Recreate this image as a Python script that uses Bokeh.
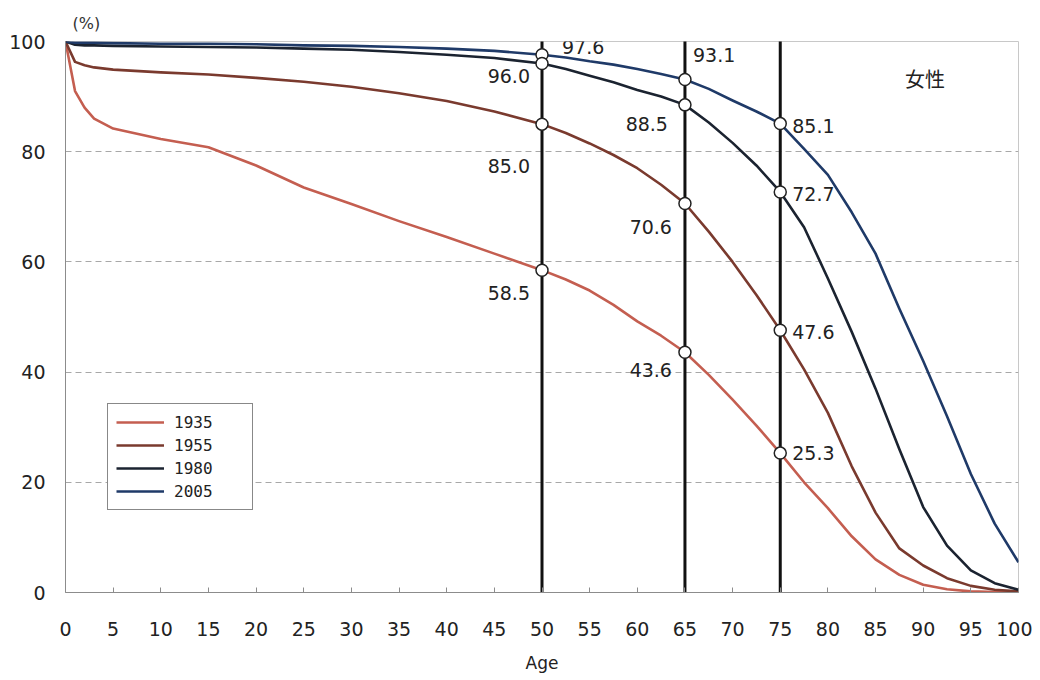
from bokeh.plotting import figure
from bokeh.models import ColumnDataSource, Range1d, FixedTicker, Legend, LegendItem, Label, Title
from bokeh.core.properties import value
from bokeh.embed import file_html
from bokeh.resources import INLINE

# ---------------- data ----------------
ages = [0, 1, 2, 3, 5, 10, 15, 20, 25, 30, 35, 40, 45,
        50, 52.5, 55, 57.5, 60, 62.5, 65, 67.5, 70, 72.5, 75, 77.5,
        80, 82.5, 85, 87.5, 90, 92.5, 95, 97.5, 100]
surv_1935 = [100, 91.0, 88.0, 86.0, 84.2, 82.3, 80.8, 77.5, 73.5, 70.5, 67.4, 64.5, 61.5,
             58.5, 56.8, 54.8, 52.2, 49.2, 46.6, 43.6, 39.5, 35.0, 30.3, 25.3, 20.0,
             15.3, 10.2, 6.0, 3.2, 1.4, 0.6, 0.2, 0.1, 0.0]
surv_1955 = [100, 96.3, 95.7, 95.3, 94.9, 94.4, 94.0, 93.4, 92.7, 91.8, 90.6, 89.2, 87.3,
             85.0, 83.4, 81.5, 79.4, 77.0, 74.0, 70.6, 65.5, 60.0, 54.0, 47.6, 40.5,
             32.6, 22.9, 14.5, 8.0, 4.9, 2.6, 1.2, 0.5, 0.2]
surv_1980 = [100, 99.4, 99.3, 99.3, 99.2, 99.1, 99.0, 98.9, 98.7, 98.5, 98.1, 97.6, 97.0,
             96.0, 95.0, 93.8, 92.6, 91.2, 90.0, 88.5, 85.3, 81.6, 77.5, 72.7, 66.3,
             57.0, 47.3, 37.0, 26.0, 15.5, 8.5, 4.0, 1.7, 0.5]
surv_2005 = [100, 99.8, 99.8, 99.8, 99.7, 99.6, 99.6, 99.5, 99.3, 99.2, 99.0, 98.7, 98.3,
             97.6, 97.1, 96.4, 95.8, 95.0, 94.1, 93.1, 91.4, 89.3, 87.3, 85.1, 80.5,
             75.8, 69.0, 61.5, 51.5, 42.0, 32.0, 21.5, 12.5, 5.5]
series_names = ["1935", "1955", "1980", "2005"]

milestone_ages = [50, 65, 75]
point_ages = [50, 50, 50, 50, 65, 65, 65, 65, 75, 75, 75, 75]
point_values = [97.6, 96.0, 85.0, 58.5, 93.1, 88.5, 70.6, 43.6, 85.1, 72.7, 47.6, 25.3]

y_ticks = [0, 20, 40, 60, 80, 100]
x_ticks = list(range(0, 101, 5))
y_unit = "(%)"
x_title = "Age"
panel_title = "女性"

# ---------------- styles ----------------
colors = ["#c45e50", "#7a3a2e", "#1b2330", "#1f3a68"]
label_dx = [20, -12, -12, -12, 8, -17, -13, -13, 12, 12, 12, 12]
label_dy = [-8, 12, 42, 23, -25, 19, 24, 18, 2, 2, 2, 0]
label_align = ["left", "right", "right", "right", "left", "right", "right", "right", "left", "left", "left", "left"]

FONT = "DejaVu Sans"

p = figure(width=1032, height=676,
           x_range=Range1d(0, 100), y_range=Range1d(0, 100),
           output_backend="svg", toolbar_location=None,
           min_border_left=65, min_border_right=14,
           min_border_top=41, min_border_bottom=84,
           background_fill_color="white", border_fill_color="white")

p.outline_line_color = "#c8c8c8"
p.outline_line_width = 1
p.xgrid.grid_line_color = None
p.ygrid.grid_line_color = "#a8a8a8"
p.ygrid.grid_line_dash = "6 4"
p.ygrid.grid_line_width = 1
p.ygrid.ticker = FixedTicker(ticks=[20, 40, 60, 80])

p.xaxis.ticker = FixedTicker(ticks=x_ticks)
p.yaxis.ticker = FixedTicker(ticks=y_ticks)
for ax in (p.xaxis, p.yaxis):
    ax.axis_line_color = "#8c8c8c"
    ax.axis_line_width = 1
    ax.major_tick_line_color = "#8c8c8c"
    ax.minor_tick_line_color = None
    ax.major_label_text_font = FONT
    ax.major_label_text_font_size = "19px"
    ax.major_label_text_color = "#222222"
p.xaxis.major_tick_in = 5
p.xaxis.major_tick_out = 0
p.xaxis.major_label_standoff = 29
p.yaxis.major_tick_in = 0
p.yaxis.major_tick_out = 0
p.yaxis.major_label_standoff = 20
p.xaxis.axis_label = x_title
p.xaxis.axis_label_text_font = FONT
p.xaxis.axis_label_text_font_size = "17px"
p.xaxis.axis_label_text_font_style = "normal"
p.xaxis.axis_label_text_color = "#222222"
p.xaxis.axis_label_standoff = 14

# unit label above the plot area
p.add_layout(Title(text=y_unit, align="left", offset=7, standoff=17,
                   text_font=FONT, text_font_size="16px", text_font_style="normal",
                   text_color="#333333"), "above")

# curves
renderers = []
for name, vals, c in zip(series_names, [surv_1935, surv_1955, surv_1980, surv_2005], colors):
    r = p.line(ages, vals, line_color=c, line_width=2.6, line_join="round")
    renderers.append(r)

# vertical milestone lines
p.segment(x0=milestone_ages, y0=[0] * len(milestone_ages), x1=milestone_ages,
          y1=[100.4] * len(milestone_ages), line_color="#111111", line_width=3)

# markers
p.scatter(point_ages, point_values, marker="circle", size=12,
          fill_color="white", line_color="#222222", line_width=1.5)

# value labels
lsrc = ColumnDataSource(dict(x=point_ages, y=point_values,
                             t=[f"{v:.1f}" for v in point_values],
                             dx=label_dx, dy=label_dy, al=label_align))
p.text(x="x", y="y", text="t", x_offset="dx", y_offset="dy", text_align="al",
       text_baseline="middle", source=lsrc, text_font=value(FONT),
       text_font_size="19px", text_color="#222222")

# panel title
p.add_layout(Label(x=90.2, y=93.3, text=panel_title, text_font="Noto Sans CJK JP",
                   text_font_size="20px", text_color="#222222", text_align="center",
                   text_baseline="middle"))

legend = Legend(items=[LegendItem(label=n, renderers=[r]) for n, r in zip(series_names, renderers)],
                location=(42, 82), orientation="vertical",
                border_line_color="#111111", border_line_width=1.5,
                background_fill_color="white", background_fill_alpha=1,
                label_text_font="DejaVu Sans Mono", label_text_font_size="16px",
                label_text_color="#222222",
                glyph_width=48, glyph_height=20, label_height=20, label_width=70,
                label_standoff=10, spacing=3, padding=8, margin=0)
p.add_layout(legend, "center")

open("out.html", "w").write(file_html(p, INLINE))
